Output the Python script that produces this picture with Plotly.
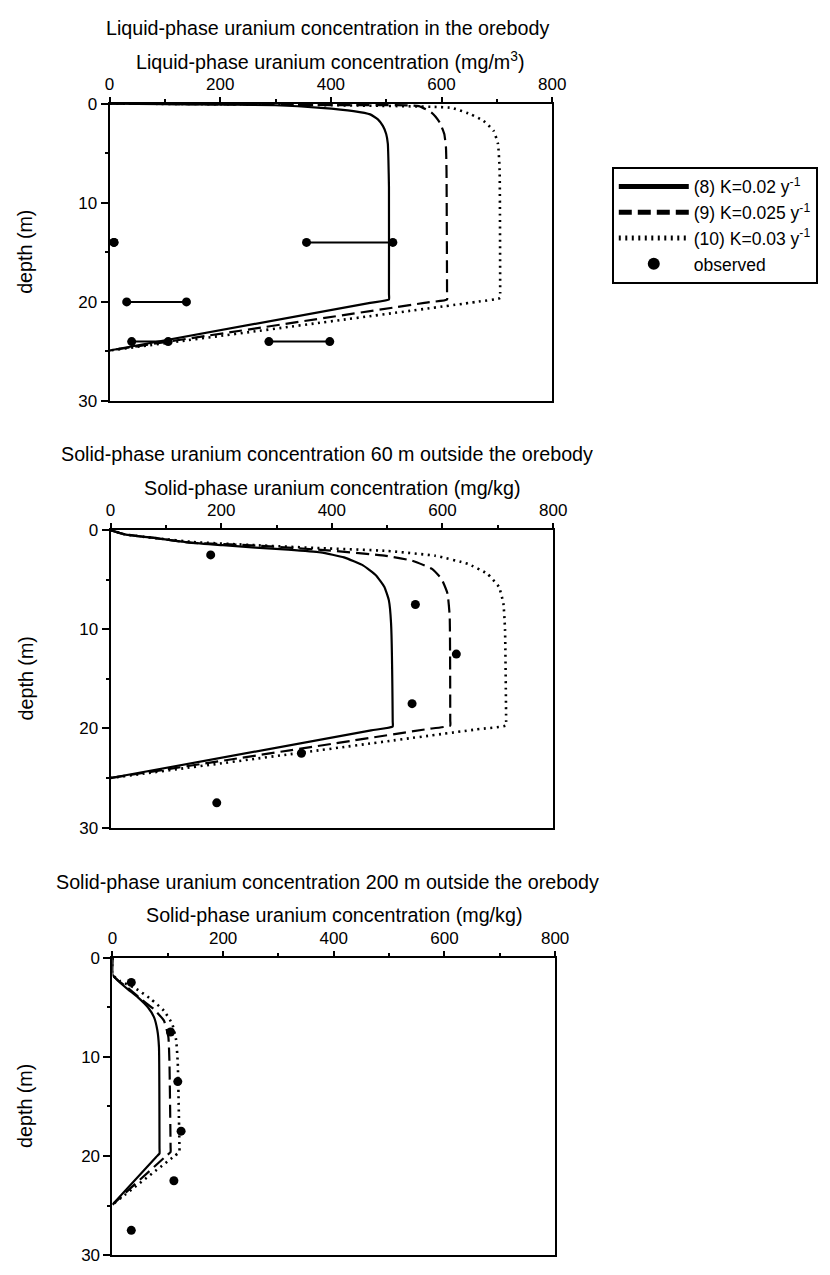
import plotly.graph_objects as go

# ---------------- Panel 1: liquid-phase, in the orebody ----------------
p1_k8_depth = [0, 0.08, 0.17, 0.43, 0.76, 1.09, 1.59, 2.25, 3.07, 4.06, 5.7, 8.4, 19.2, 19.75, 20.1, 24.9]
p1_k8_conc = [0, 150, 300, 382, 441, 471, 485, 494, 500, 503, 504, 505, 505, 505, 471, 0]
p1_k9_depth = [0, 0.08, 0.15, 0.26, 0.92, 1.92, 3.07, 4.4, 6.7, 19.2, 19.75, 20.1, 24.9]
p1_k9_conc = [0, 200, 400, 559, 582, 597, 605, 608, 609, 610, 610, 569, 0]
p1_k10_depth = [0, 0.08, 0.2, 0.43, 1.09, 1.75, 2.74, 4.06, 6.7, 19.1, 19.6, 20.0, 24.9]
p1_k10_conc = [0, 250, 450, 618, 653, 676, 694, 702, 705, 706, 706, 663, 0]
p1_obs_depth = [14, 14, 20, 24, 24]
p1_obs_low = [8, 356, 31, 40, 288]
p1_obs_high = [8, 512, 139, 106, 398]

# ---------------- Panel 2: solid-phase, 60 m outside ----------------
p2_k8_depth = [0, 0.43, 0.83, 1.26, 1.52, 1.76, 1.96, 2.25, 2.75, 3.58, 4.57, 5.73, 7.06, 9.38, 19.3, 19.8, 20.2, 25.0]
p2_k8_conc = [0, 26, 85, 144, 203, 262, 321, 380, 422, 457, 480, 495, 503, 507, 510, 510, 471, 0]
p2_k9_depth = [0, 0.43, 0.83, 1.26, 1.55, 1.99, 2.59, 3.08, 3.91, 4.9, 6.4, 8.7, 19.2, 19.7, 20.1, 25.0]
p2_k9_conc = [0, 26, 85, 144, 262, 380, 498, 545, 581, 598, 609, 613, 614, 614, 568, 0]
p2_k10_depth = [0, 0.43, 0.83, 1.2, 1.52, 1.82, 2.09, 2.59, 3.41, 4.41, 5.73, 7.39, 10.0, 19.2, 19.7, 20.1, 25.0]
p2_k10_conc = [0, 26, 85, 150, 262, 380, 498, 587, 646, 681, 702, 710, 713, 715, 715, 661, 0]
p2_obs_depth = [2.5, 7.5, 12.5, 17.5, 22.5, 27.5]
p2_obs_conc = [181, 551, 625, 545, 345, 192]

# ---------------- Panel 3: solid-phase, 200 m outside ----------------
p3_k8_depth = [0, 1.72, 2.38, 3.2, 4.0, 5.0, 6.0, 7.3, 9.0, 19.2, 19.75, 20.1, 24.9]
p3_k8_conc = [0, 0, 11, 28, 46, 64, 75, 81, 84, 85, 85, 79, 0]
p3_k9_depth = [0, 1.72, 2.38, 3.04, 4.2, 5.2, 6.35, 8.0, 10.65, 19.1, 19.6, 20.0, 24.9]
p3_k9_conc = [0, 0, 12, 28, 52, 75, 93, 101, 103, 105, 105, 97, 0]
p3_k10_depth = [0, 1.72, 2.38, 3.04, 4.2, 5.36, 6.68, 8.3, 10.65, 19.1, 19.6, 20.0, 24.9]
p3_k10_conc = [0, 0, 14, 40, 70, 93, 108, 115, 118, 121, 121, 112, 0]
p3_obs_depth = [2.5, 7.5, 12.5, 17.5, 22.5, 27.5]
p3_obs_conc = [34, 105, 118, 124, 111, 34]

series_names = ["(8) K=0.02 y<sup>-1</sup>", "(9) K=0.025 y<sup>-1</sup>",
                "(10) K=0.03 y<sup>-1</sup>", "observed"]
panel_titles = ["Liquid-phase uranium concentration in the orebody",
                "Solid-phase uranium concentration 60 m outside the orebody",
                "Solid-phase uranium concentration 200 m outside the orebody"]
axis_titles = ["Liquid-phase uranium concentration (mg/m<sup>3</sup>)",
               "Solid-phase uranium concentration (mg/kg)",
               "Solid-phase uranium concentration (mg/kg)"]
x_ticks = [0, 200, 400, 600, 800]
y_ticks = [0, 10, 20, 30]

W, H = 830, 1275
FONT = "Liberation Sans, Arial, sans-serif"
panel_px = [(107, 560, 96, 398), (108, 561, 529, 831), (110, 563, 963, 1265)]

fig = go.Figure()
dashes = ["solid", "13px,6px", "2px,4.5px"]

panels = [
    ([(p1_k8_conc, p1_k8_depth), (p1_k9_conc, p1_k9_depth), (p1_k10_conc, p1_k10_depth)], None),
    ([(p2_k8_conc, p2_k8_depth), (p2_k9_conc, p2_k9_depth), (p2_k10_conc, p2_k10_depth)], (p2_obs_conc, p2_obs_depth)),
    ([(p3_k8_conc, p3_k8_depth), (p3_k9_conc, p3_k9_depth), (p3_k10_conc, p3_k10_depth)], (p3_obs_conc, p3_obs_depth)),
]

for i, (curves, obs) in enumerate(panels):
    xa = "x" if i == 0 else f"x{i+1}"
    ya = "y" if i == 0 else f"y{i+1}"
    for j, (c, d) in enumerate(curves):
        fig.add_trace(go.Scatter(
            x=c, y=d, mode="lines", xaxis=xa, yaxis=ya,
            line=dict(color="black", width=2.2 if j < 2 else 2.6, dash=dashes[j],
                      shape="spline", smoothing=0.4),
            name=series_names[j], showlegend=(i == 0), legendrank=j + 1))
    if obs is not None:
        fig.add_trace(go.Scatter(
            x=obs[0], y=obs[1], mode="markers", xaxis=xa, yaxis=ya,
            marker=dict(color="black", size=9),
            name=series_names[3], showlegend=(i == 1), legendrank=4, cliponaxis=False))

# panel 1 observed ranges (segments)
seg_x, seg_y = [], []
for d, lo, hi in zip(p1_obs_depth, p1_obs_low, p1_obs_high):
    seg_x += [lo, hi, None]
    seg_y += [d, d, None]
fig.add_trace(go.Scatter(
    x=seg_x, y=seg_y, mode="lines+markers", xaxis="x", yaxis="y",
    line=dict(color="black", width=2), marker=dict(color="black", size=9),
    name=series_names[3], showlegend=False, cliponaxis=False))

annotations = []
for i, (x0, x1, y0, y1) in enumerate(panel_px):
    sfx = "" if i == 0 else str(i + 1)
    xdom = [x0 / W, x1 / W]
    ydom = [1 - y1 / H, 1 - y0 / H]
    common = dict(showline=True, linecolor="black", linewidth=2, mirror=True,
                  showgrid=False, zeroline=False, ticks="outside",
                  tickwidth=1.5, tickcolor="black",
                  tickfont=dict(family=FONT, size=17, color="black"))
    fig.update_layout(**{
        "xaxis" + sfx: dict(domain=xdom, range=[0, 800], side="top", anchor="y" + sfx,
                            tickvals=x_ticks, ticklen=5,
                            minor=dict(dtick=100, tick0=0, ticks="outside", ticklen=3,
                                       tickcolor="black", showgrid=False),
                            **common),
        "yaxis" + sfx: dict(domain=ydom, range=[30, 0], anchor="x" + sfx,
                            tickvals=y_ticks, ticklen=7,
                            minor=dict(dtick=5, tick0=0, ticks="outside", ticklen=3,
                                       tickcolor="black", showgrid=False),
                            **common),
    })
    annotations.append(dict(text=panel_titles[i], x=330 / W, y=1 - (y0 - 77) / H,
                            xref="paper", yref="paper", xanchor="center", yanchor="middle",
                            showarrow=False, font=dict(family=FONT, size=19.7, color="black")))
    annotations.append(dict(text=axis_titles[i], x=(x0 + x1) / 2 / W, y=1 - (y0 - 43) / H,
                            xref="paper", yref="paper", xanchor="center", yanchor="middle",
                            showarrow=False, font=dict(family=FONT, size=19.7, color="black")))
    annotations.append(dict(text="depth (m)", x=21 / W, y=1 - (y0 + y1) / 2 / H,
                            xref="paper", yref="paper", xanchor="center", yanchor="middle",
                            textangle=-90, showarrow=False,
                            font=dict(family=FONT, size=19.7, color="black")))

fig.update_layout(
    width=W, height=H, margin=dict(l=0, r=0, t=0, b=0),
    paper_bgcolor="white", plot_bgcolor="white",
    font=dict(family=FONT, color="black"),
    annotations=annotations,
    legend=dict(x=621 / W, y=1 - 160 / H, xanchor="left", yanchor="top",
                bordercolor="black", borderwidth=2, bgcolor="white",
                font=dict(family=FONT, size=17.5, color="black"),
                traceorder="normal", itemwidth=70, tracegroupgap=0,
                itemsizing="constant"),
)

fig.write_html(
    "out.html", config={"displayModeBar": False},
    post_script=("document.body.style.margin='0';"
                 "document.body.style.overflow='hidden';"
                 "document.documentElement.style.overflow='hidden';"))
